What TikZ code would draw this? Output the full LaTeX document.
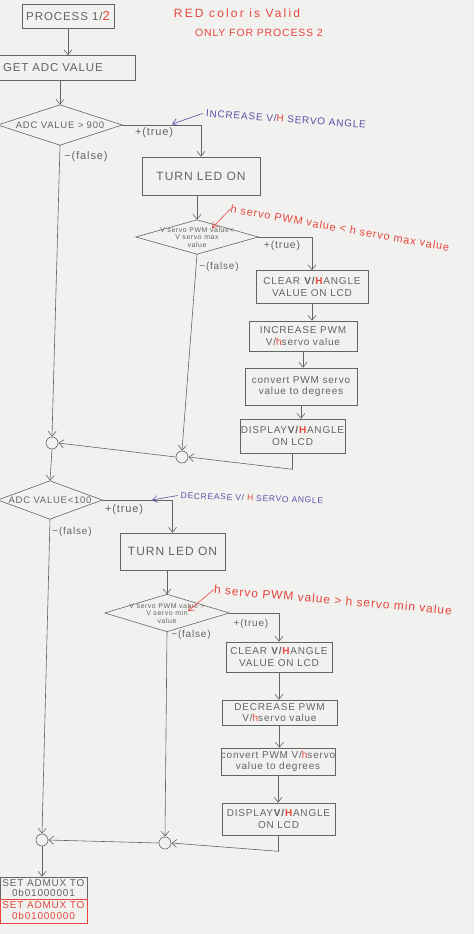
\documentclass[tikz,border=0pt]{standalone}
\usepackage{fontspec}
\setmainfont[LetterSpace=8]{Liberation Sans}
\newfontfamily\notefont[LetterSpace=18]{Liberation Sans}
\usetikzlibrary{arrows.meta}
\definecolor{pencil}{RGB}{100,100,100}
\definecolor{redink}{RGB}{232,72,62}
\definecolor{blueink}{RGB}{88,82,168}
\definecolor{paper}{RGB}{241,241,239}
\newcommand{\rh}[1]{\textcolor{redink}{#1}}
\begin{document}
\begin{tikzpicture}[x=1pt,y=-1pt,
  every node/.style={text=pencil},
  box/.style={draw=pencil, line width=0.6pt, rectangle, inner sep=0pt, align=center, font=\fontsize{10}{11.5}\selectfont},
  dtext/.style={rectangle, inner sep=0pt, align=center},
  jn/.style={circle, draw=pencil, line width=0.6pt, minimum size=12pt, inner sep=0pt},
  flow/.style={draw=pencil, line width=0.6pt, -{Straight Barb[length=5pt,width=8pt]}},
  dline/.style={draw=pencil, line width=0.6pt},
  lbl/.style={inner sep=0pt, font=\fontsize{11}{12}\selectfont},
  bluenote/.style={text=blueink, inner sep=0pt},
  blueflow/.style={draw=blueink, line width=0.6pt, -{Straight Barb[length=5pt,width=7pt]}},
  rednote/.style={text=redink, inner sep=0pt},
  redflow/.style={draw=redink, line width=0.6pt, -{Straight Barb[length=5pt,width=7pt]}}
]
\fill[paper] (0,0) rectangle (474,934);
\useasboundingbox (0,0) rectangle (474,934);

% ---------- top ----------
\node[box, minimum width=92pt, minimum height=24pt, font=\fontsize{11.5}{12}\selectfont] (proc) at (68,16) {PROCESS 1/\rh{\fontsize{13}{13}\selectfont 2}};
\node[rednote, font=\notefont\fontsize{12}{13}\selectfont] (rn0) at (237,13) {RED color is Valid};
\node[rednote, font=\fontsize{10.5}{11}\selectfont] (rn0b) at (259,33) {ONLY FOR PROCESS 2};

\node[box, text width=128pt, inner xsep=4pt, minimum height=25pt, align=left, font=\fontsize{11.5}{12}\selectfont] (get) at (67,68) {GET ADC VALUE};

\node[dtext, minimum width=124pt, minimum height=40pt, font=\fontsize{9.5}{10}\selectfont] (d1) at (60,125) {ADC VALUE > 900};
\draw[dline] (d1.north) -- (d1.east) -- (d1.south) -- (d1.west) -- cycle;

\node[bluenote, rotate=-4, font=\fontsize{10}{11}\selectfont] (bn1) at (286,119) {INCREASE V/\rh{H} SERVO ANGLE};
\coordinate (b1) at (172,124);

\node[box, minimum width=118pt, minimum height=38pt, font=\fontsize{12}{13}\selectfont] (turn1) at (201,176) {TURN LED ON};

\node[dtext, minimum width=122pt, minimum height=34pt, font=\fontsize{7}{7.5}\selectfont] (d2) at (197,237) {V servo PWM value<\\V servo max\\value};
\draw[dline] (d2.north) -- (d2.east) -- (d2.south) -- (d2.west) -- cycle;

\node[rednote, rotate=-10, font=\fontsize{11}{12}\selectfont] (rn2) at (340,228) {h servo PWM value < h servo max value};
\coordinate (r2) at (212,228);

\node[box, minimum width=112pt, minimum height=33pt] (clear1) at (312,287) {CLEAR \textbf{V/}\rh{\textbf{H}}ANGLE\\VALUE ON LCD};
\node[box, minimum width=108pt, minimum height=30pt] (inc1) at (303,336) {INCREASE PWM\\V/\rh{h}servo value};
\node[box, minimum width=112pt, minimum height=37pt] (conv1) at (301,386.5) {convert PWM servo\\value to degrees};
\node[box, minimum width=105pt, minimum height=34pt] (disp1) at (292.5,436) {DISPLAY\textbf{V/}\rh{\textbf{H}}ANGLE\\ON LCD};

\node[jn] (c1) at (52,443) {};
\node[jn] (c2) at (182,457) {};
\path (disp1.south) ++(0,16) coordinate (k1);

% ---------- lower ----------
\node[dtext, minimum width=104pt, minimum height=38pt, font=\fontsize{9.5}{10}\selectfont] (d3) at (50,500) {ADC VALUE<100};
\draw[dline] (d3.north) -- (d3.east) -- (d3.south) -- (d3.west) -- cycle;

\node[bluenote, rotate=-2, font=\fontsize{8.5}{10}\selectfont] (bn2) at (252,498) {DECREASE V/ \rh{H} SERVO ANGLE};
\coordinate (b2) at (152,500);

\node[box, minimum width=105pt, minimum height=37pt, font=\fontsize{12}{13}\selectfont] (turn2) at (172.5,551.5) {TURN LED ON};

\node[dtext, minimum width=124pt, minimum height=37pt, font=\fontsize{7}{7.5}\selectfont] (d4) at (167,613) {V servo PWM value >\\V servo min\\value};
\draw[dline] (d4.north) -- (d4.east) -- (d4.south) -- (d4.west) -- cycle;

\node[rednote, rotate=-5, font=\fontsize{12}{13}\selectfont] (rn4) at (333,600) {h servo PWM value > h servo min value};
\coordinate (r4) at (188,611);

\node[box, minimum width=106pt, minimum height=30pt] (clear2) at (279,657) {CLEAR \textbf{V/}\rh{\textbf{H}}ANGLE\\VALUE ON LCD};
\node[box, minimum width=115pt, minimum height=25pt] (dec2) at (279.5,712.5) {DECREASE PWM\\V/\rh{h}servo value};
\node[box, minimum width=110pt, minimum height=27pt] (conv2) at (278,761.5) {convert PWM V/\rh{h}servo\\value to degrees};
\node[box, minimum width=113pt, minimum height=32pt] (disp2) at (278.5,819) {DISPLAY\textbf{V/}\rh{\textbf{H}}ANGLE\\ON LCD};

\node[jn] (c3) at (42,840) {};
\node[jn] (c4) at (165,843) {};
\path (disp2.south) ++(0,16) coordinate (k2);

\node[box, minimum width=87pt, minimum height=22pt, font=\fontsize{10}{10.5}\selectfont] (admux) at (43.5,888) {SET ADMUX TO\\0b01000001};
\node[box, draw=redink, text=redink, minimum width=87pt, minimum height=24pt, font=\fontsize{10}{11}\selectfont] (admuxr) at (43.5,911) {SET ADMUX TO\\0b01000000};

% ---------- labels ----------
\node[lbl] (t1) at (154,133) {+(true)};
\node[lbl] (f1) at (86,157) {−(false)};
\node[lbl, font=\fontsize{10.5}{12}\selectfont] (t2) at (282,246) {+(true)};
\node[lbl, font=\fontsize{10}{12}\selectfont] (f2) at (219,267) {−(false)};
\node[lbl] (t3) at (124,510) {+(true)};
\node[lbl, font=\fontsize{10}{12}\selectfont] (f3) at (72,532) {−(false)};
\node[lbl, font=\fontsize{10}{12}\selectfont] (t4) at (251,624) {+(true)};
\node[lbl, font=\fontsize{10}{12}\selectfont] (f4) at (191,635) {−(false)};

% ---------- connectors ----------
\draw[flow] (proc.south) -- (proc.south |- get.north);
\draw[flow] (d1.north |- get.south) -- (d1.north);
\draw[flow] (d1.east) -| (turn1.north);
\draw[flow] (d1.south) -- (c1.north);
\draw[flow] (d2.north |- turn1.south) -- (d2.north);
\draw[flow] (d2.east) -| (clear1.north);
\draw[flow] (d2.south) -- (c2.north);
\draw[flow] (clear1.south) -- (clear1.south |- inc1.north);
\draw[flow] (inc1.south) -- (inc1.south |- conv1.north);
\draw[flow] (conv1.south) -- (conv1.south |- disp1.north);
\draw[flow] (disp1.south) -- (k1) -- (c2.east);
\draw[flow] (c2.west) -- (c1.east);
\draw[flow] (c1.south) -- (d3.north);

\draw[flow] (d3.east) -| (turn2.north);
\draw[flow] (d3.south) -- (c3.north);
\draw[flow] (d4.north |- turn2.south) -- (d4.north);
\draw[flow] (d4.east) -| (clear2.north);
\draw[flow] (d4.south) -- (c4.north);
\draw[flow] (clear2.south) -- (clear2.south |- dec2.north);
\draw[flow] (dec2.south) -- (dec2.south |- conv2.north);
\draw[flow] (conv2.south) -- (conv2.south |- disp2.north);
\draw[flow] (disp2.south) -- (k2) -- (c4.east);
\draw[flow] (c4.west) -- (c3.east);
\draw[flow] (c3.south) -- (c3.south |- admux.north);

\draw[blueflow] ([xshift=-3pt]bn1.west) -- (b1);
\draw[blueflow] ([xshift=-3pt]bn2.west) -- (b2);
\draw[redflow] (rn2.west) -- (r2);
\draw[redflow] (rn4.west) -- (r4);
\end{tikzpicture}
\end{document}
